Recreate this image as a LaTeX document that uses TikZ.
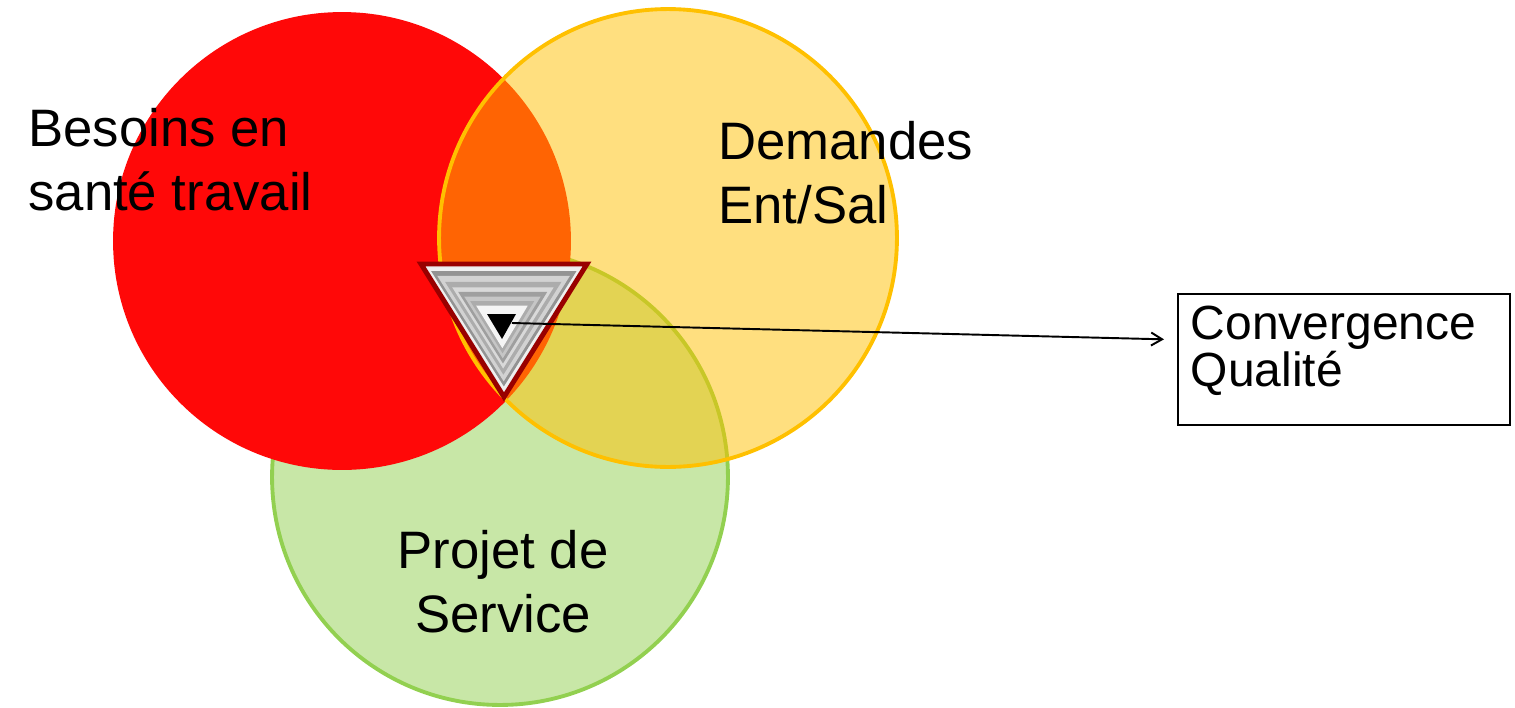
\documentclass[tikz,border=0pt]{standalone}
\usepackage{fontspec}
\setmainfont{Liberation Sans}
\usetikzlibrary{calc,arrows.meta}
\definecolor{vennred}{RGB}{255,8,8}
\definecolor{vennyellow}{RGB}{255,192,0}
\definecolor{venngreen}{RGB}{146,208,80}
\definecolor{deltared}{RGB}{153,0,0}

\begin{document}
\begin{tikzpicture}[x=0.02cm, y=-0.02cm]
	\tikzstyle{venntext} = [inner sep=0pt, align=left, font=\fontsize{30}{35.9}\selectfont]
	\tikzstyle{ring} = [line width=2.2pt]

	\useasboundingbox (0,0) rectangle (1515,707);

		\filldraw[ring, draw=venngreen, fill=venngreen, fill opacity=0.5] (500,477) circle (4.56cm);
		\fill[vennred] (342,241) circle (4.58cm);
		\filldraw[ring, draw=vennyellow, fill=vennyellow, fill opacity=0.5] (668,238) circle (4.58cm);

		\coordinate (tl) at (421,264);
		\coordinate (tr) at (587,264);
		\coordinate (bt) at (504,397);
		\coordinate (a1) at (427,268);
		\coordinate (a2) at (581,268);
		\coordinate (a3) at (504,390);
		\coordinate (b1) at (487,314);
		\coordinate (b2) at (516,314);
		\coordinate (b3) at (502,339);

		\fill[gray!15] (tl) -- (tr) -- (bt) -- cycle;
		\foreach \t/\c in {0/gray!12, 0.07/gray!85, 0.17/gray!35, 0.3/gray!65, 0.42/gray!30, 0.52/gray!75, 0.62/gray!45, 0.72/gray!65, 0.82/gray!8, 1/black}
			\fill[\c] ($(a1)!\t!(b1)$) -- ($(a2)!\t!(b2)$) -- ($(a3)!\t!(b3)$) -- cycle;
		\draw[deltared, line width=2.8pt, line join=miter] (tl) -- (tr) -- (bt) -- cycle;

		\node[venntext, anchor=base west] (besoins) at (28,210) {Besoins en\\santé travail};
		\node[venntext, anchor=base west] (demandes) at (718,223) {Demandes\\Ent/Sal};
		\node[venntext, align=center, anchor=base] (projet) at (503,632) {Projet de\\Service};

		\node[draw, line width=1pt, anchor=north west, inner xsep=0.26cm, inner ysep=0.24cm, text width=6.12cm, align=left, font=\fontsize{27.3}{27}\selectfont] (conv) at (1177,293) {Convergence\\Qualité\rule[-0.52cm]{0pt}{0pt}};

		\coordinate (core) at (512,323);
		\coordinate (tip) at ($(conv.west)+(-13,-20)$);
		\draw[line width=1.1pt, -{Straight Barb[length=0.22cm, width=0.26cm]}] (core) -- (tip);

    \end{tikzpicture}
\end{document}
